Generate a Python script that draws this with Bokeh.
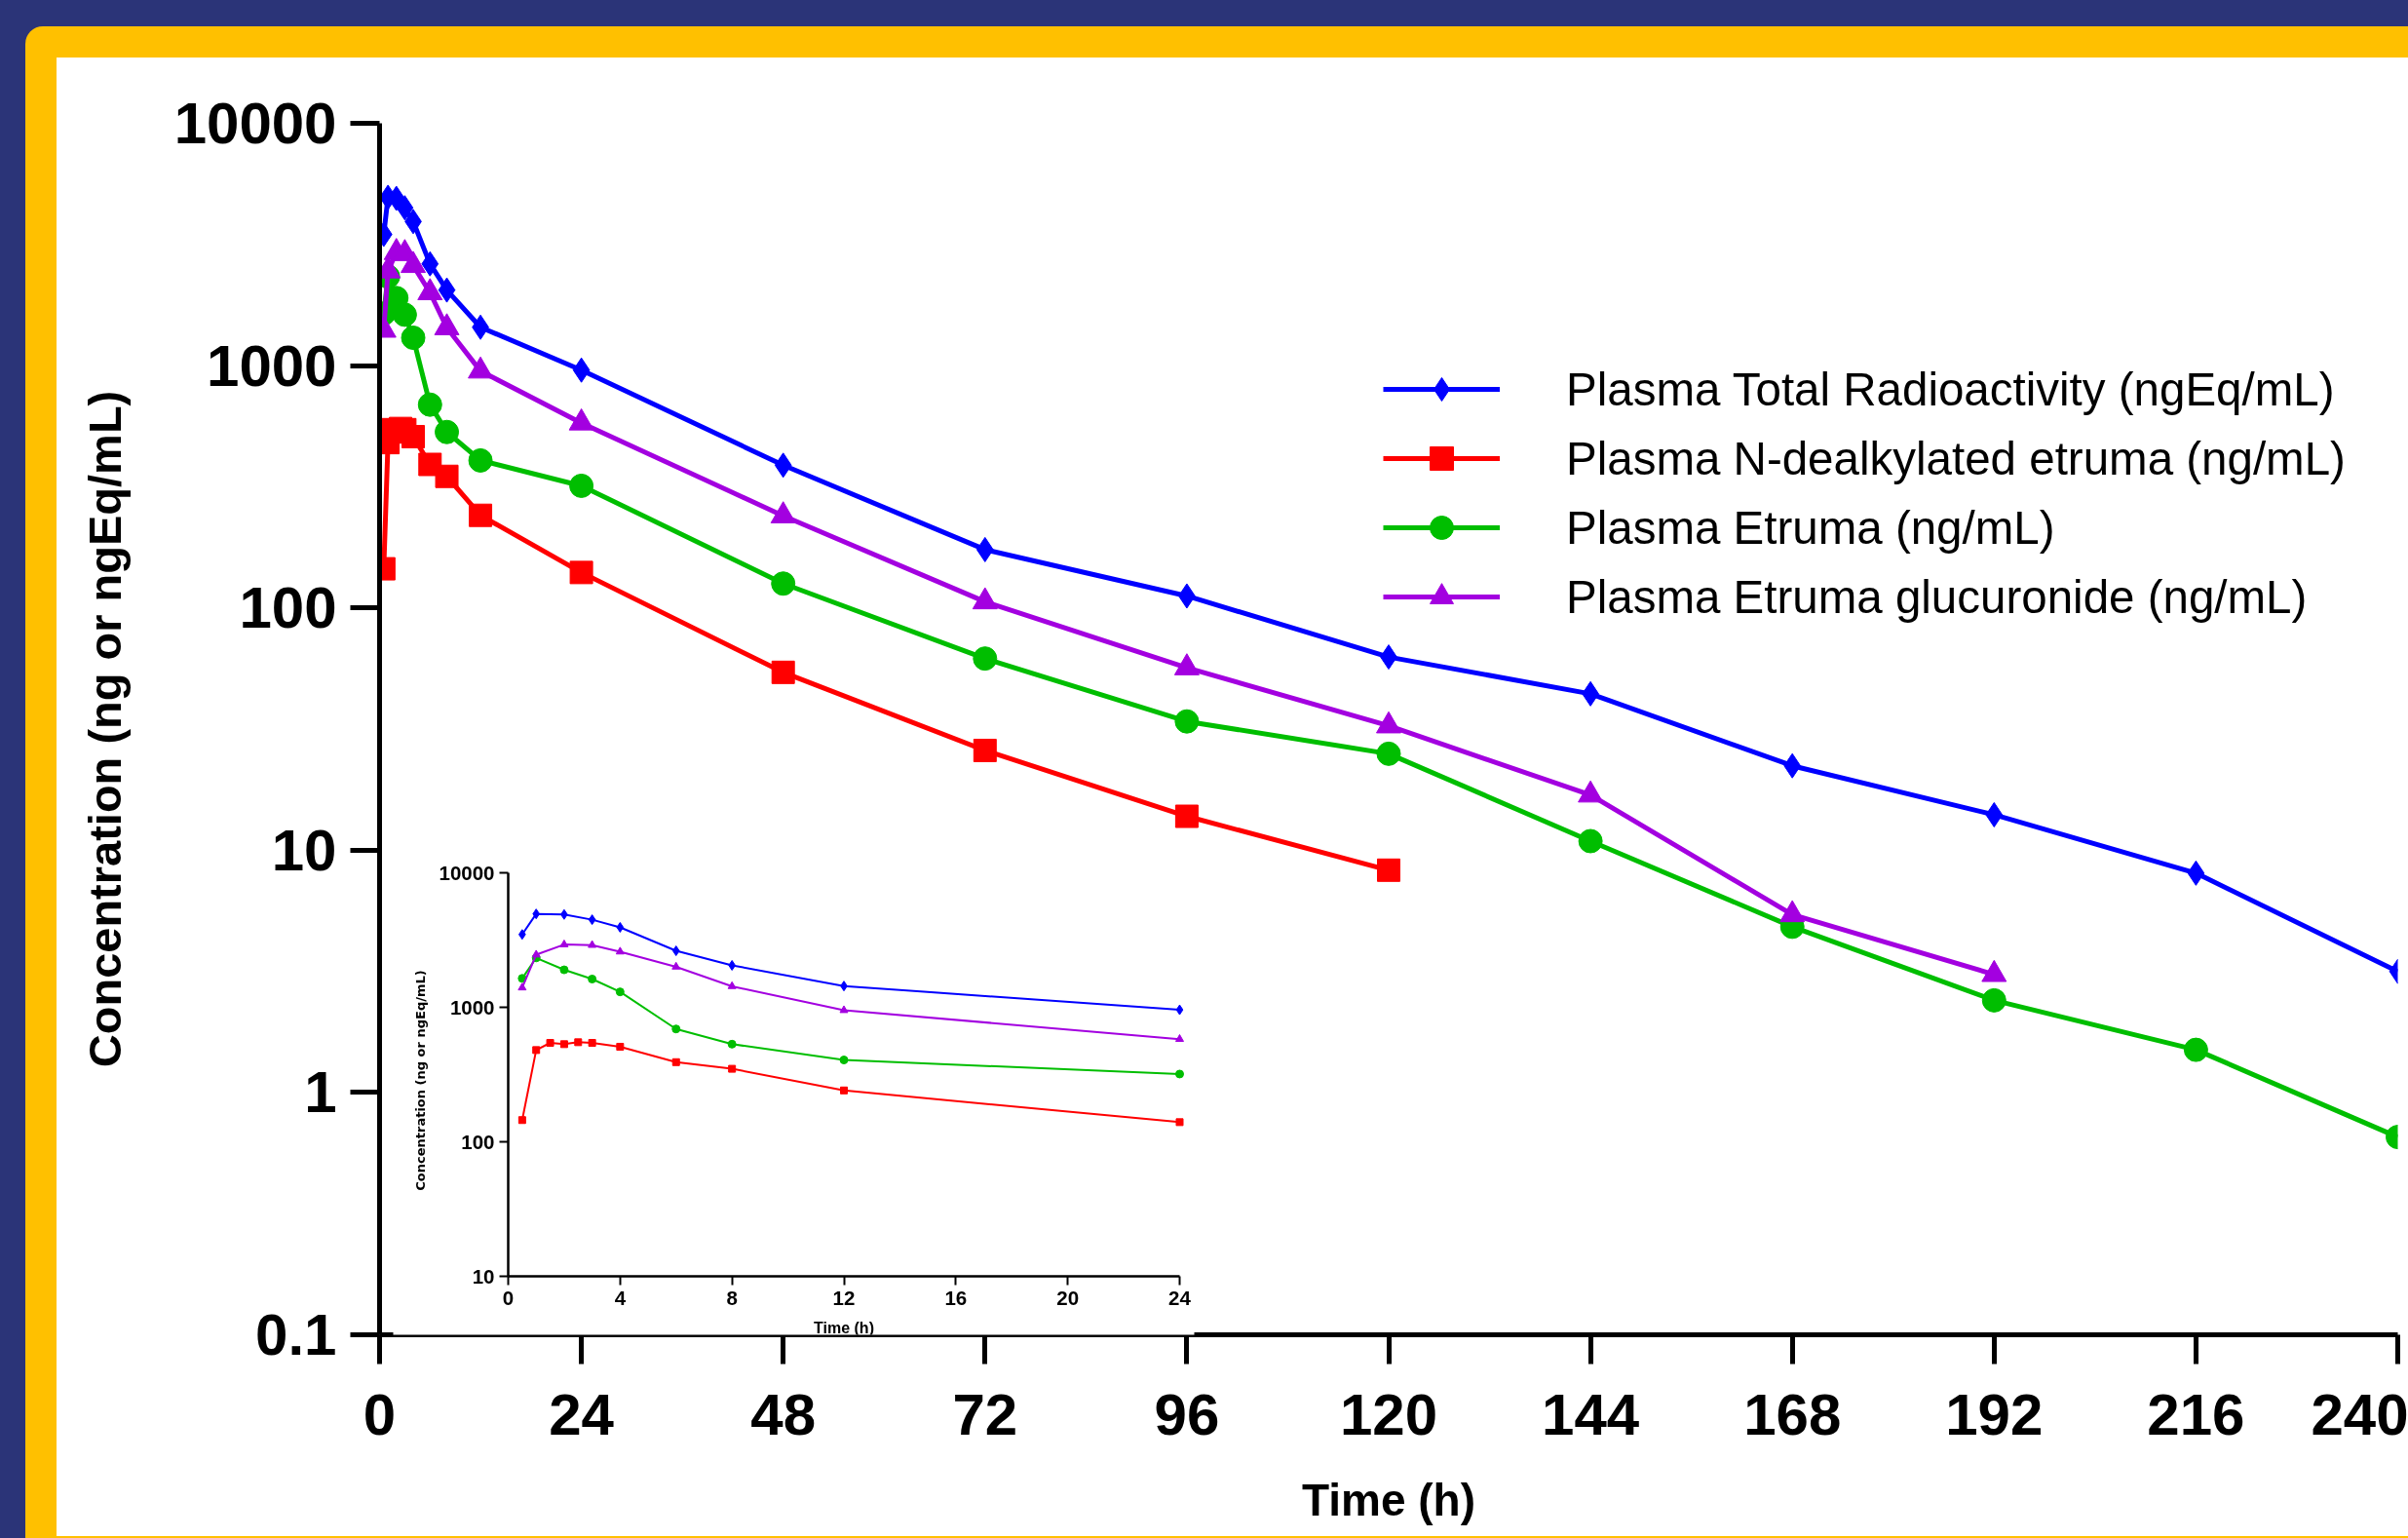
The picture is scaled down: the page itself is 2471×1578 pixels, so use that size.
import math
from bokeh.plotting import figure
from bokeh.models import (Range1d, LogScale, LinearAxis, LogAxis, FixedTicker,
                          CustomJSTickFormatter, BoxAnnotation, Label, Legend, LegendItem)
from bokeh.embed import file_html
from bokeh.resources import INLINE

# ---------------- data ----------------
series_labels = [
    "Plasma Total Radioactivity (ngEq/mL)",
    "Plasma N-dealkylated etruma (ng/mL)",
    "Plasma Etruma (ng/mL)",
    "Plasma Etruma glucuronide (ng/mL)",
]
t_total = [0.5, 1, 2, 3, 4, 6, 8, 12, 24, 48, 72, 96, 120, 144, 168, 192, 216, 240]
c_total = [3480, 4950, 4900, 4480, 3930, 2630, 2050, 1440, 958, 388, 174, 112, 62.7, 44.2, 22.3, 14.0, 8.04, 3.16]

t_ndealk = [0.5, 1, 1.5, 2, 2.5, 3, 4, 6, 8, 12, 24, 48, 72, 96, 120]
c_ndealk = [145, 481, 544, 532, 550, 544, 509, 391, 349, 241, 140, 54.2, 25.8, 13.8, 8.27]

t_etruma = [0.5, 1, 2, 3, 4, 6, 8, 12, 24, 48, 72, 96, 120, 144, 168, 192, 216, 240]
c_etruma = [1640, 2330, 1900, 1622, 1303, 690, 532, 406, 319, 126, 61.8, 34.0, 25.0, 10.9, 4.83, 2.40, 1.50, 0.655]

t_gluc = [0.5, 1, 2, 3, 4, 6, 8, 12, 24, 48, 72, 96, 120, 144, 168, 192]
c_gluc = [1400, 2460, 2930, 2900, 2590, 2000, 1433, 950, 580, 240, 106, 56.6, 32.6, 16.9, 5.42, 3.07]

x_ticks = [0, 24, 48, 72, 96, 120, 144, 168, 192, 216, 240]
y_ticks = [0.1, 1, 10, 100, 1000, 10000]
inset_x_ticks = [0, 4, 8, 12, 16, 20, 24]
inset_y_ticks = [10, 100, 1000, 10000]
inset_t_max = 24

# ---------------- styles / layout ----------------
colors = ["#0000FF", "#FF0000", "#00BE00", "#A300E0"]
markers = ["diamond", "square", "circle", "triangle"]
main_sizes = [25, 23, 24, 25]
inset_sizes = [10, 7, 8, 8]
NAVY = "#2B3478"
YELLOW = "#FFC000"
FONT = "Liberation Sans"

M = 0                      # observed page offset of the figure
W, H = 2471, 1578          # figure size
FL, FR, FT, FB = 389, 2460, 126, 1369     # frame edges (page px)
IX0, IX1 = 521, 1210       # inset x=0 and x=24 (page px)
IY_TOP, IY_BOT = 895, 1309 # inset y=10000 and y=10 (page px)

p = figure(width=W, height=H, x_range=Range1d(0, 240), y_range=Range1d(0.1, 10000),
           y_axis_type="log", output_backend="svg", toolbar_location=None,
           min_border_left=FL - M, min_border_right=W - (FR - M),
           min_border_top=FT - M, min_border_bottom=H - (FB - M))
p.grid.visible = False
p.outline_line_color = None
p.background_fill_color = "white"
p.border_fill_alpha = 0

# ---------------- main axes ----------------
xa = p.xaxis[0]
ya = p.yaxis[0]
xa.ticker = FixedTicker(ticks=x_ticks)
ya.ticker = FixedTicker(ticks=y_ticks)
ya.formatter = CustomJSTickFormatter(code="return tick.toString();")
for ax in (xa, ya):
    ax.axis_line_width = 5
    ax.axis_line_color = "black"
    ax.major_tick_line_width = 5
    ax.major_tick_line_color = "black"
    ax.major_tick_in = 0
    ax.major_tick_out = 30
    ax.minor_tick_line_color = None
    ax.major_label_text_font = FONT
    ax.major_label_text_font_style = "bold"
    ax.major_label_text_font_size = "60px"
    ax.major_label_text_color = "black"
    ax.axis_label_text_font = FONT
    ax.axis_label_text_font_style = "bold"
    ax.axis_label_text_color = "black"
xa.axis_label = "Time (h)"
ya.axis_label = "Concentration (ng or ngEq/mL)"
xa.axis_label_text_font_size = "46px"
ya.axis_label_text_font_size = "47px"
xa.major_label_standoff = 31
xa.axis_label_standoff = 38
ya.major_label_standoff = 14
ya.axis_label_standoff = 42

# ---------------- main series ----------------
all_t = [t_total, t_ndealk, t_etruma, t_gluc]
all_c = [c_total, c_ndealk, c_etruma, c_gluc]
items = []
for lab, t, c, col, mk, sz in zip(series_labels, all_t, all_c, colors, markers, main_sizes):
    lr = p.line(t, c, line_width=5, line_color=col)
    sr = p.scatter(t, c, marker=mk, size=sz, fill_color=col, line_color=col)
    items.append(LegendItem(label=lab, renderers=[lr, sr]))

legend = Legend(items=items, location=(1419 - FL, FB - 642),
                glyph_width=120, glyph_height=60, label_height=60, spacing=11,
                label_standoff=68, padding=0, margin=0,
                border_line_color=None, background_fill_alpha=0,
                label_text_font=FONT, label_text_font_size="47.5px",
                label_text_color="black")
p.add_layout(legend)

# ---------------- inset ----------------
ppx = (IX1 - IX0) / inset_t_max
dec = (IY_BOT - IY_TOP) / 3.0
ix_start = 0 - (IX0 - FL) / ppx
ix_end = inset_t_max + (FR - IX1) / ppx
iy_start = 10 ** (1 - (FB - IY_BOT) / dec)
iy_end = 10 ** (4 + (IY_TOP - FT) / dec)
p.extra_x_ranges = {"ix": Range1d(ix_start, ix_end)}
p.extra_y_ranges = {"iy": Range1d(iy_start, iy_end)}
p.extra_y_scales = {"iy": LogScale()}

inset_bg = BoxAnnotation(left=403 - FL, right=1225 - FL, bottom=FB - 1378, top=FB - 860,
                         left_units="screen", right_units="screen",
                         top_units="screen", bottom_units="screen",
                         fill_color="white", fill_alpha=1, line_color=None,
                         level="annotation")
p.add_layout(inset_bg)

for t, c, col, mk, sz in zip(all_t, all_c, colors, markers, inset_sizes):
    ti = [a for a in t if a <= inset_t_max]
    ci = [b for a, b in zip(t, c) if a <= inset_t_max]
    p.line(ti, ci, line_width=2, line_color=col, x_range_name="ix", y_range_name="iy",
           level="overlay")
    p.scatter(ti, ci, marker=mk, size=sz, fill_color=col, line_color=col,
              x_range_name="ix", y_range_name="iy", level="overlay")

ixa = LinearAxis(x_range_name="ix", y_range_name="iy", fixed_location=inset_y_ticks[0],
                 bounds=(inset_x_ticks[0], inset_x_ticks[-1]),
                 ticker=FixedTicker(ticks=inset_x_ticks))
iya = LogAxis(x_range_name="ix", y_range_name="iy", fixed_location=inset_x_ticks[0],
              bounds=(inset_y_ticks[0], inset_y_ticks[-1]),
              ticker=FixedTicker(ticks=inset_y_ticks),
              formatter=CustomJSTickFormatter(code="return tick.toString();"))
for ax in (ixa, iya):
    ax.level = "overlay"
    ax.axis_line_width = 2.5
    ax.major_tick_line_width = 2
    ax.major_tick_in = 0
    ax.major_tick_out = 9
    ax.minor_tick_line_color = None
    ax.major_label_text_font = FONT
    ax.major_label_text_font_style = "bold"
    ax.major_label_text_font_size = "20.5px"
    ax.major_label_text_color = "black"
ixa.major_label_standoff = 6
iya.major_label_standoff = 5
p.add_layout(ixa, "below")
p.add_layout(iya, "left")

p.add_layout(Label(x=(inset_x_ticks[0] + inset_x_ticks[-1]) / 2, y=inset_y_ticks[0],
                   x_range_name="ix", y_range_name="iy", y_offset=-53,
                   text="Time (h)", text_align="center", text_baseline="middle",
                   text_font=FONT, text_font_style="bold", text_font_size="16px",
                   text_color="black", level="overlay"))
p.add_layout(Label(x=inset_x_ticks[0],
                   y=math.sqrt(inset_y_ticks[0] * inset_y_ticks[-1]),
                   x_range_name="ix", y_range_name="iy", x_offset=-90, y_offset=-6,
                   angle=math.pi / 2, text="Concentration (ng or ngEq/mL)",
                   text_align="center", text_baseline="middle",
                   text_font="DejaVu Sans", text_font_style="bold", text_font_size="13px",
                   text_color="black", level="overlay"))

html = file_html(p, INLINE, title="Concentration vs time")
css = ("<style>"
       "html{background:%s;}"
       "body::before{content:'';position:fixed;left:26px;top:27px;width:2700px;height:1800px;"
       "background:%s;border-radius:18px;z-index:-2;}"
       "body::after{content:'';position:fixed;left:58px;top:59px;width:2700px;height:1517px;"
       "background:#ffffff;z-index:-1;}"
       "</style>" % (NAVY, YELLOW))
html = html.replace("<head>", "<head>" + css, 1)
open("out.html", "w").write(html)
